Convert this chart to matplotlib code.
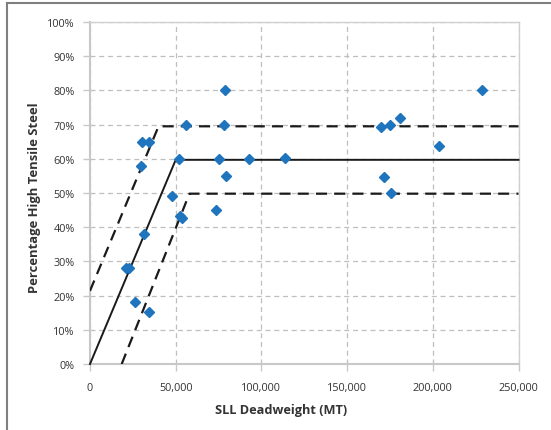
import matplotlib
matplotlib.use("Agg")
import matplotlib.pyplot as plt
from matplotlib.lines import Line2D
from matplotlib.ticker import FuncFormatter, MultipleLocator

# Data
deadweight = [79000, 56000, 78000, 30500, 34400, 29700, 51900, 75200, 92700,
              79500, 47600, 52500, 53500, 73300, 31700, 21000, 22500, 26200,
              34600, 113900, 228500, 180800, 169900, 175000, 203600, 171700, 175600]
hts_pct = [0.80, 0.70, 0.70, 0.65, 0.65, 0.58, 0.60, 0.60, 0.60,
           0.55, 0.49, 0.432, 0.428, 0.45, 0.38, 0.28, 0.28, 0.18,
           0.151, 0.602, 0.80, 0.72, 0.693, 0.699, 0.638, 0.548, 0.499]

mean_x = [0, 50000, 250000]
mean_y = [0.0, 0.597, 0.597]
upper_x = [0, 40000, 250000]
upper_y = [0.214, 0.695, 0.695]
lower_x = [18500, 58000, 250000]
lower_y = [0.0, 0.498, 0.498]

plt.rcParams['font.family'] = ['Open Sans', 'DejaVu Sans']

fig = plt.figure(figsize=(5.51, 4.31), dpi=100)
ax = fig.add_axes([90/551, 1-365/431, (518.5-90)/551, (365-23)/431])

grid_c = '#BFBFBF'
ax.set_xlim(0, 250000)
ax.set_ylim(0, 1.0)
ax.xaxis.set_major_locator(MultipleLocator(50000))
ax.yaxis.set_major_locator(MultipleLocator(0.1))
ax.xaxis.set_major_formatter(FuncFormatter(lambda v, p: f"{int(v):,}"))
ax.yaxis.set_major_formatter(FuncFormatter(lambda v, p: f"{v*100:.0f}%"))
ax.grid(True, color=grid_c, linestyle=(0, (4, 3)), linewidth=0.9)
ax.set_axisbelow(True)

for s in ['top', 'right']:
    ax.spines[s].set_color('#D0D0D0')
    ax.spines[s].set_linewidth(1.0)
for s in ['left', 'bottom']:
    ax.spines[s].set_color('#C8C8C8')
    ax.spines[s].set_linewidth(1.5)
ax.tick_params(axis='both', length=5, width=1, color='#C8C8C8', labelsize=7.8,
               labelcolor='#333333', pad=6)
ax.tick_params(axis='x', pad=8)

ax.plot(mean_x, mean_y, color='#1A1A1A', linewidth=1.4, zorder=3, clip_on=False)
ax.plot(upper_x, upper_y, color='#1A1A1A', linewidth=1.6, linestyle=(0, (5, 3.2)), zorder=3)
ax.plot(lower_x, lower_y, color='#1A1A1A', linewidth=1.6, linestyle=(0, (5, 3.2)), zorder=3)
ax.plot(deadweight, hts_pct, linestyle='none', marker='D', markersize=5.6,
        color='#1F74BE', markeredgecolor='#1F74BE', zorder=4, clip_on=False)

ax.set_xlabel('SLL Deadweight (MT)', fontsize=9.2, fontweight='bold', color='#333333')
ax.set_ylabel('Percentage High Tensile Steel', fontsize=9.4, fontweight='bold', color='#333333')
ax.xaxis.set_label_coords((281-90)/428.5, -(411-365)/342, transform=ax.transAxes)
ax.yaxis.set_label_coords(-(90-35)/428.5, (365-198)/342, transform=ax.transAxes)
ax.xaxis.label.set_va('center')
ax.yaxis.label.set_va('center')

# Figure frame (left and top only)
fig.add_artist(Line2D([7/551, 7/551], [0, 1-4/431], transform=fig.transFigure, color='#7F7F7F', linewidth=1.5))
fig.add_artist(Line2D([7/551, 1], [1-4/431, 1-4/431], transform=fig.transFigure, color='#7F7F7F', linewidth=1.5))

fig.savefig('out.png', dpi=100)
